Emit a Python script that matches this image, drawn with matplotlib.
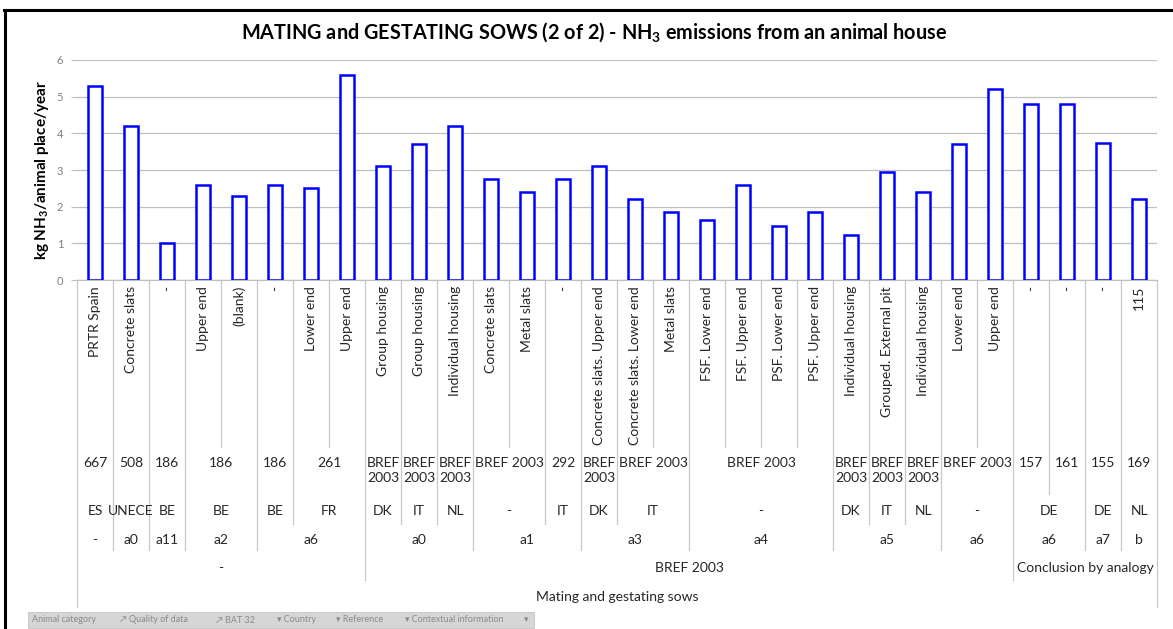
import matplotlib
matplotlib.use("Agg")
import matplotlib.pyplot as plt
from matplotlib.transforms import blended_transform_factory
from matplotlib.patches import Rectangle
from matplotlib.lines import Line2D

plt.rcParams['font.family'] = ['Lato', 'DejaVu Sans']
plt.rcParams['mathtext.default'] = 'regular'

# ---------------- data ----------------
names = ["PRTR Spain", "Concrete slats", "-", "Upper end", "(blank)", "-",
         "Lower end", "Upper end", "Group housing", "Group housing",
         "Individual housing", "Concrete slats", "Metal slats", "-",
         "Concrete slats. Upper end", "Concrete slats. Lower end", "Metal slats",
         "FSF. Lower end", "FSF. Upper end", "PSF. Lower end", "PSF. Upper end",
         "Individual housing", "Grouped. External pit", "Individual housing",
         "Lower end", "Upper end", "-", "-", "-", "115"]
values = [5.3, 4.2, 1.0, 2.6, 2.3, 2.6, 2.5, 5.6, 3.1, 3.7, 4.2, 2.75, 2.4, 2.75,
          3.1, 2.2, 1.85, 1.65, 2.6, 1.48, 1.85, 1.22, 2.95, 2.4, 3.7, 5.2,
          4.8, 4.8, 3.75, 2.2]
reference = [("667", 1), ("508", 1), ("186", 1), ("186", 2), ("186", 1), ("261", 2),
             ("BREF\n2003", 1), ("BREF\n2003", 1), ("BREF\n2003", 1), ("BREF 2003", 2),
             ("292", 1), ("BREF\n2003", 1), ("BREF 2003", 2), ("BREF 2003", 4),
             ("BREF\n2003", 1), ("BREF\n2003", 1), ("BREF\n2003", 1), ("BREF 2003", 2),
             ("157", 1), ("161", 1), ("155", 1), ("169", 1)]
country = [("ES", 1), ("UNECE", 1), ("BE", 1), ("BE", 2), ("BE", 1), ("FR", 2),
           ("DK", 1), ("IT", 1), ("NL", 1), ("-", 2), ("IT", 1), ("DK", 1), ("IT", 2),
           ("-", 4), ("DK", 1), ("IT", 1), ("NL", 1), ("-", 2), ("DE", 2), ("DE", 1),
           ("NL", 1)]
bat32 = [("-", 1), ("a0", 1), ("a11", 1), ("a2", 2), ("a6", 3), ("a0", 3), ("a1", 3),
         ("a3", 3), ("a4", 4), ("a5", 3), ("a6", 2), ("a6", 2), ("a7", 1), ("b", 1)]
quality = [("-", 8), ("BREF 2003", 18), ("Conclusion by analogy", 4)]
animal = [("Mating and gestating sows", 30)]
yticks = [0, 1, 2, 3, 4, 5, 6]
title = "MATING and GESTATING SOWS (2 of 2) - NH$_3$ emissions from an animal house"
ylabel = "kg NH$_3$/animal place/year"
pivot_fields = ["Animal category", "Quality of data", "BAT 32", "Country",
                "Reference", "Contextual information"]

# ---------------- layout ----------------
W, H = 1173, 629
fig = plt.figure(figsize=(W / 100, H / 100), dpi=100)
fig.patch.set_facecolor("white")

def fx(px):
    return px / W

def fy(py):
    return 1 - py / H

ax = fig.add_axes([fx(77), fy(280), fx(1157) - fx(77), fy(60) - fy(280)])
n = len(names)
xs = list(range(n))
ax.bar(xs, values, width=0.38, facecolor="white", edgecolor="#0000FF",
       linewidth=1.8, zorder=3)
ax.set_xlim(-0.5, n - 0.5)
ax.set_ylim(0, 6)
ax.set_yticks(yticks)
ax.set_yticklabels([str(t) for t in yticks])
ax.tick_params(axis="y", length=4, color="#bfbfbf", pad=6, labelsize=8,
               labelcolor="#7f7f7f")
ax.set_xticks([])
ax.grid(axis="y", color="#bfbfbf", linewidth=0.9, zorder=0)
for s in ["left", "right", "top"]:
    ax.spines[s].set_visible(False)
ax.spines["bottom"].set_color("#bfbfbf")
ax.spines["bottom"].set_linewidth(0.9)

trans = blended_transform_factory(ax.transData, fig.transFigure)
txtcol = "#262626"
fs = 10

# rotated innermost labels
for i, nm in enumerate(names):
    ax.text(i, fy(286), nm, rotation=90, ha="center", va="top", fontsize=fs,
            color=txtcol, transform=trans, clip_on=False)

levels = [reference, country, bat32, quality, animal]
row_text_y = [457, 511, 540, 568, 597]
level_bottom = [447, 494, 524, 550, 580, 607]

def boundaries(spans):
    b, pos = set(), 0
    for _, c in spans:
        pos += c
        b.add(pos)
    return b

bsets = [set(range(1, n))] + [boundaries(l) for l in levels]

for li, spans in enumerate(levels):
    pos = 0
    for lab, c in spans:
        cx = pos + (c - 1) / 2
        if li == 0:
            ax.text(cx, fy(row_text_y[li]), lab, ha="center", va="top",
                    fontsize=fs, color=txtcol, transform=trans,
                    multialignment="center", linespacing=1.3)
        else:
            ax.text(cx, fy(row_text_y[li]), lab, ha="center", va="center",
                    fontsize=fs, color=txtcol, transform=trans)
        pos += c

# separator lines
for k in range(0, n + 1):
    if k == 0 or k == n:
        depth = len(level_bottom) - 1
    else:
        depth = max(d for d, bs in enumerate(bsets) if k in bs)
    xk = k - 0.5
    ax.add_line(Line2D([xk, xk], [fy(280), fy(level_bottom[depth])],
                       transform=trans, color="#c8c8c8", linewidth=0.9,
                       clip_on=False))

# title and y label
fig.text(fx(594), fy(32), title, ha="center", va="center", fontsize=14.3,
         fontweight="bold", color="black")
fig.text(fx(42), fy(170), ylabel, ha="center", va="center", rotation=90,
         fontsize=11, fontweight="bold", color="black")

# chart frame (black)
fig.add_artist(Line2D([fx(5), fx(5)], [fy(10), fy(640)], transform=fig.transFigure,
                      color="black", linewidth=2.2))
fig.add_artist(Line2D([fx(4), fx(1180)], [fy(10), fy(10)], transform=fig.transFigure,
                      color="black", linewidth=2.2))

# pivot field buttons
fig.add_artist(Rectangle((fx(28), fy(628)), fx(534) - fx(28), fy(612) - fy(628),
                         transform=fig.transFigure, facecolor="#d6d6d6",
                         edgecolor="#c4c4c4", linewidth=0.6))
btn_x = [32, 130, 226, 287, 346, 415]
btn_prefix = ["", "\u2197 ", "\u2197 ", "\u25be ", "\u25be ", "\u25be "]
for x0, pre, lab in zip(btn_x, btn_prefix, pivot_fields):
    xx = x0 - (10 if pre else 0)
    fig.text(fx(xx), fy(620), pre + lab, ha="left", va="center", fontsize=6.5,
             color="#8a8a8a")
fig.text(fx(524), fy(620), "\u25be", ha="left", va="center", fontsize=6.5,
         color="#8a8a8a")

fig.savefig("out.png", dpi=100)
